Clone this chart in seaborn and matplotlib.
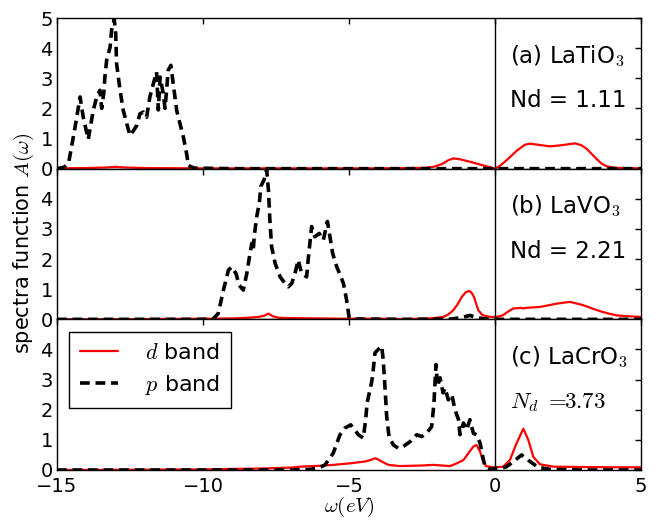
import numpy as np
import pandas as pd
import matplotlib
matplotlib.use("Agg")
import matplotlib.pyplot as plt
import seaborn as sns

# ---- spectral data: omega (eV) and A(omega) for each compound ----
# (a) LaTiO3
w_a_p = [-15.0, -14.75, -14.6, -14.38, -14.21, -14.1, -13.93, -13.76, -13.64, -13.53,
         -13.47, -13.4, -13.36, -13.3, -13.18, -13.13, -13.04, -12.99, -12.96, -12.84,
         -12.73, -12.61, -12.5, -12.39, -12.27, -12.16, -12.04, -11.93, -11.82, -11.7,
         -11.59, -11.53, -11.47, -11.36, -11.3, -11.19, -11.1, -11.02, -10.9, -10.79,
         -10.67, -10.56, -10.5, -10.3, -9.0, -7.0, -5.0, -3.0, -1.0, 0.0, 2.0, 5.0]
A_a_p = [0.0, 0.05, 0.2, 1.38, 2.38, 1.7, 0.97, 1.93, 2.38, 2.6,
         2.0, 2.49, 3.04, 3.6, 4.04, 4.6, 4.96, 4.49, 3.49, 2.6,
         1.93, 1.49, 1.1, 1.25, 1.43, 1.82, 1.88, 1.71, 2.38, 2.82,
         3.21, 1.95, 3.04, 2.49, 2.0, 3.27, 3.43, 2.82, 1.93, 1.5,
         1.04, 0.49, 0.1, 0.02, 0.0, 0.0, 0.0, 0.0, 0.0, 0.0, 0.0, 0.0]
w_a_d = [-15.0, -14.0, -13.3, -13.0, -12.7, -12.0, -10.0, -8.0, -6.0, -4.0,
         -3.0, -2.4, -2.1, -1.8, -1.6, -1.43, -1.2, -0.9, -0.6, -0.3,
         0.0, 0.15, 0.35, 0.51, 0.75, 1.0, 1.05, 1.2, 1.5, 1.88,
         2.3, 2.74, 2.95, 3.14, 3.3, 3.48, 3.65, 3.82, 4.1, 4.5, 5.0]
A_a_d = [0.01, 0.02, 0.04, 0.06, 0.04, 0.02, 0.01, 0.01, 0.01, 0.01,
         0.02, 0.03, 0.06, 0.16, 0.28, 0.34, 0.31, 0.24, 0.16, 0.08,
         0.01, 0.08, 0.24, 0.38, 0.6, 0.78, 0.8, 0.83, 0.79, 0.74,
         0.78, 0.84, 0.78, 0.66, 0.5, 0.32, 0.17, 0.08, 0.03, 0.02, 0.01]

# (b) LaVO3
w_b_p = [-15.0, -12.0, -10.0, -9.65, -9.48, -9.3, -9.13, -9.02, -8.87, -8.76,
         -8.62, -8.5, -8.39, -8.33, -8.28, -8.24, -8.16, -8.07, -8.02, -7.91,
         -7.82, -7.76, -7.71, -7.65, -7.53, -7.36, -7.19, -7.08, -6.96, -6.85,
         -6.74, -6.62, -6.45, -6.4, -6.28, -6.17, -6.02, -5.88, -5.74, -5.67,
         -5.56, -5.42, -5.3, -5.19, -5.08, -5.0, -4.9, -3.0, -1.5, -1.15,
         -0.86, -0.6, -0.3, 0.0, 2.5, 5.0]
A_b_p = [0.0, 0.0, 0.0, 0.02, 0.19, 0.97, 1.63, 1.74, 1.52, 1.13,
         0.97, 1.52, 2.19, 2.52, 2.3, 2.8, 3.41, 3.86, 4.41, 4.63,
         4.97, 4.3, 3.3, 2.41, 1.86, 1.41, 1.19, 1.08, 1.19, 1.52,
         1.97, 1.52, 1.41, 1.97, 3.08, 2.74, 2.85, 2.63, 3.25, 2.85,
         2.19, 1.74, 1.47, 1.19, 0.63, 0.08, 0.01, 0.0, 0.01, 0.06,
         0.13, 0.05, 0.01, 0.0, 0.0, 0.0]
w_b_d = [-15.0, -12.0, -10.0, -9.0, -8.5, -8.1, -7.9, -7.76, -7.6, -7.4,
         -7.0, -6.0, -5.0, -4.0, -3.25, -2.5, -2.11, -1.77, -1.6, -1.43,
         -1.28, -1.14, -1.0, -0.88, -0.8, -0.72, -0.64, -0.57, -0.45, -0.34,
         -0.15, 0.02, 0.15, 0.28, 0.45, 0.63, 0.9, 0.97, 1.05, 1.54,
         2.11, 2.57, 3.02, 3.3, 3.6, 3.9, 4.17, 4.6, 4.97]
A_b_d = [0.0, 0.01, 0.02, 0.03, 0.05, 0.08, 0.12, 0.19, 0.1, 0.05,
         0.04, 0.03, 0.02, 0.02, 0.01, 0.02, 0.04, 0.08, 0.16, 0.3,
         0.5, 0.74, 0.9, 0.94, 0.88, 0.74, 0.5, 0.3, 0.16, 0.11,
         0.08, 0.08, 0.1, 0.14, 0.26, 0.36, 0.38, 0.36, 0.38, 0.41,
         0.52, 0.58, 0.47, 0.37, 0.27, 0.19, 0.13, 0.1, 0.08]

# (c) LaCrO3
w_c_p = [-15.0, -10.0, -7.0, -6.34, -6.0, -5.82, -5.54, -5.31, -5.14, -4.94,
         -4.8, -4.68, -4.51, -4.43, -4.38, -4.28, -4.22, -4.17, -4.11, -4.0,
         -3.88, -3.83, -3.77, -3.71, -3.63, -3.48, -3.31, -3.14, -2.91, -2.68,
         -2.51, -2.34, -2.17, -2.09, -2.05, -2.02, -1.97, -1.88, -1.78, -1.71,
         -1.6, -1.48, -1.37, -1.25, -1.2, -1.08, -0.97, -0.86, -0.74, -0.63,
         -0.51, -0.42, -0.34, -0.2, -0.06, 0.0, 0.2, 0.4, 0.63, 0.91,
         1.2, 1.48, 1.9, 3.0, 5.0]
A_c_p = [0.0, 0.0, 0.0, 0.02, 0.08, 0.17, 0.56, 1.17, 1.39, 1.5,
         1.33, 1.17, 1.06, 1.67, 2.22, 2.67, 2.94, 3.33, 3.89, 4.0,
         4.11, 3.67, 2.78, 1.78, 1.11, 0.83, 0.72, 0.78, 0.94, 1.17,
         1.11, 1.22, 1.44, 2.22, 3.0, 3.5, 2.78, 3.06, 2.56, 2.72,
         2.33, 2.5, 2.0, 1.67, 1.17, 1.56, 1.33, 1.67, 1.22, 1.17,
         0.89, 0.44, 0.11, 0.04, 0.02, 0.06, 0.05, 0.11, 0.28, 0.5,
         0.28, 0.09, 0.02, 0.0, 0.0]
w_c_d = [-15.0, -12.0, -10.0, -8.0, -7.0, -6.68, -6.0, -5.54, -4.97, -4.46,
         -4.2, -4.11, -4.0, -3.88, -3.65, -3.25, -2.5, -2.11, -1.54, -1.31,
         -1.08, -0.91, -0.74, -0.63, -0.51, -0.42, -0.31, -0.06, 0.0, 0.28,
         0.51, 0.74, 0.97, 1.14, 1.31, 1.54, 2.0, 2.9, 4.0, 5.0]
A_c_d = [0.0, 0.01, 0.02, 0.05, 0.08, 0.11, 0.14, 0.17, 0.22, 0.28,
         0.35, 0.39, 0.35, 0.28, 0.17, 0.13, 0.15, 0.17, 0.13, 0.22,
         0.33, 0.56, 0.78, 0.83, 0.61, 0.33, 0.13, 0.09, 0.09, 0.11,
         0.33, 0.89, 1.37, 1.0, 0.44, 0.19, 0.11, 0.1, 0.09, 0.09]

panel_titles = ["(a) LaTiO$_3$", "(b) LaVO$_3$", "(c) LaCrO$_3$"]
panel_nd = ["Nd = 1.11", "Nd = 2.21", r"$N_d\ =\!\!3.73$"]
x_ticks = [-15, -10, -5, 0, 5]

panels = [
    (w_a_d, A_a_d, w_a_p, A_a_p),
    (w_b_d, A_b_d, w_b_p, A_b_p),
    (w_c_d, A_c_d, w_c_p, A_c_p),
]

# ---- style ----
sns.set_theme(style="white")
plt.rcParams.update({
    "font.family": ["DejaVu Sans"],
    "mathtext.fontset": "cm",
    "axes.edgecolor": "black",
    "axes.linewidth": 1.0,
    "axes.facecolor": "white",
    "figure.facecolor": "white",
    "xtick.color": "black",
    "ytick.color": "black",
    "text.color": "black",
    "axes.labelcolor": "black",
})

fig, axes = plt.subplots(3, 1, sharex=True, figsize=(6.62, 5.21), dpi=100)
fig.subplots_adjust(left=57 / 662, right=641 / 662, top=1 - 18 / 521,
                    bottom=1 - 470 / 521, hspace=0)

for i, (ax, (wd, Ad, wp, Ap)) in enumerate(zip(axes, panels)):
    last = i == 2
    sns.lineplot(x=wd, y=Ad, ax=ax, color="red", linewidth=1.6,
                 sort=False, estimator=None, legend=False,
                 label=r"$d$ band" if last else None)
    sns.lineplot(x=wp, y=Ap, ax=ax, color="black", linewidth=2.6,
                 linestyle=(0, (2.7, 1.6)), sort=False, estimator=None,
                 legend=False, label=r"$p$ band" if last else None)
    ax.axvline(0, color="black", linewidth=1.0)

    ax.set_xlim(-15, 5)
    ax.set_ylim(0, 5)
    ax.set_yticks([0, 1, 2, 3, 4, 5] if i == 0 else [0, 1, 2, 3, 4])
    ax.set_xticks(x_ticks)
    ax.tick_params(direction="in", top=True, right=True, length=4.5,
                   width=1, labelsize=14)
    ax.tick_params(axis="y", pad=3)
    ax.tick_params(axis="x", pad=5)
    ax.set_xlabel("")
    ax.set_ylabel("")

    ax.text(0.5, 3.75, panel_titles[i], fontsize=16.5, ha="left", va="center")
    ax.text(0.5, 2.25, panel_nd[i], fontsize=16.5, ha="left", va="center")

axes[2].legend(loc="upper left", fontsize=16, frameon=True, fancybox=False,
               edgecolor="black", framealpha=1, handlelength=1.7,
               handletextpad=1.2, borderpad=0.5, labelspacing=0.45,
               borderaxespad=0.55)
axes[2].get_legend().get_frame().set_linewidth(1.0)

fig.text(349 / 662, 1 - 507 / 521, r"$\omega(eV)$", ha="center", va="center",
         fontsize=15)
fig.text(24 / 662, 1 - 243 / 521, r"spectra function $A(\omega)$",
         rotation=90, ha="center", va="center", fontsize=15)

fig.savefig("out.png", dpi=100)
